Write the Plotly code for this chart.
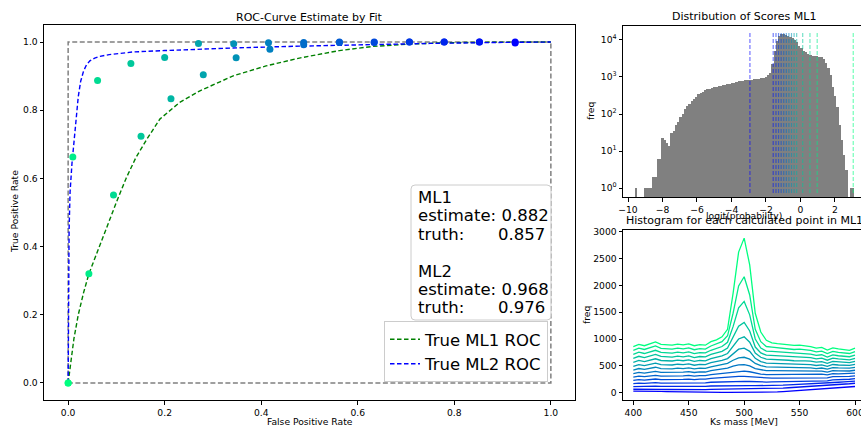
import numpy as np
import plotly.graph_objects as go

W, H = 861, 427
FONT = "DejaVu Sans"

# ---------------- ROC panel data ----------------
box_fpr = [0, 0, 1, 1, 0]
box_tpr = [0, 1, 1, 0, 0]

ml1_true_fpr = [0.0, 0.005, 0.012, 0.021, 0.032, 0.043, 0.055, 0.066, 0.076, 0.087, 0.10, 0.12, 0.14,
                0.163, 0.19, 0.231, 0.273, 0.342, 0.41, 0.479, 0.562, 0.63, 0.707, 0.78, 0.86, 0.93, 1.0]
ml1_true_tpr = [0.0, 0.06, 0.13, 0.20, 0.265, 0.32, 0.365, 0.40, 0.44, 0.48, 0.53, 0.60, 0.66,
                0.715, 0.774, 0.823, 0.857, 0.901, 0.93, 0.953, 0.975, 0.987, 0.994, 0.998, 1.0, 1.0, 1.0]

ml2_true_fpr = [0.0, 0.001, 0.002, 0.004, 0.006, 0.008, 0.011, 0.014, 0.017, 0.021, 0.026, 0.032, 0.038,
                0.045, 0.055, 0.066, 0.085, 0.1, 0.135, 0.2, 0.273, 0.35, 0.479, 0.6, 0.75, 0.9, 1.0]
ml2_true_tpr = [0.0, 0.25, 0.45, 0.56, 0.61, 0.645, 0.69, 0.74, 0.79, 0.84, 0.885, 0.915, 0.933,
                0.945, 0.953, 0.958, 0.963, 0.966, 0.971, 0.975, 0.979, 0.983, 0.988, 0.992, 0.996, 0.999, 1.0]

thr_index = list(range(15))
ml1_est_fpr = [0.0, 0.043, 0.094, 0.151, 0.213, 0.280, 0.348, 0.418, 0.488, 0.562, 0.634, 0.707, 0.779, 0.852, 0.926]
ml1_est_tpr = [0.0, 0.320, 0.551, 0.724, 0.834, 0.904, 0.954, 0.979, 0.992, 0.999, 0.999, 1.0, 1.0, 1.0, 0.997]
ml2_est_fpr = [0.0, 0.0097, 0.061, 0.130, 0.200, 0.270, 0.343, 0.415, 0.488, 0.562, 0.634, 0.707, 0.779, 0.852, 0.926]
ml2_est_tpr = [0.0, 0.663, 0.887, 0.937, 0.955, 0.996, 0.995, 0.998, 0.999, 1.0, 1.0, 1.0, 1.0, 1.0, 1.0]

auc_names = ["ML1", "ML2"]
auc_estimate = ["0.882", "0.968"]
auc_truth = ["0.857", "0.976"]

# ---------------- score distribution data ----------------
score_thresholds = [3.06, 0.97, 0.55, 0.13, -0.22, -0.37, -0.52, -0.67, -0.82, -0.97,
                    -1.12, -1.27, -1.42, -1.58, -2.93]
score_bin_lo = -9.75
score_bin_w = 0.13
score_counts = [0, 1, 0, 0, 0, 1, 1, 1, 1, 2,
                2, 6, 6, 22, 20, 16, 14, 30, 35, 50,
                60, 85, 100, 135, 165, 190, 220, 255, 290, 340,
                370, 400, 440, 460, 480, 510, 530, 550, 560, 575,
                590, 610, 630, 660, 690, 710, 740, 760, 790, 800,
                820, 830, 840, 850, 860, 880, 900, 920, 960, 1000,
                1100, 1300, 2300, 5000, 9500, 13000, 14500, 14500, 14000, 13000,
                12000, 11000, 10000, 8700, 7000, 6200, 5200, 4600, 4100, 3900,
                3800, 3700, 3650, 3550, 3400, 3000, 2400, 1700, 1100, 550,
                300, 150, 50, 20, 8, 3, 0, 1, 1, 0]

# ---------------- mass histograms ----------------
mass_mev = list(range(400, 601, 5))
mass_hist_00 = [860, 900, 875, 910, 945, 900, 895, 885, 905, 890, 910, 875, 895, 885, 950, 985, 1040, 1180, 1850, 2620, 2880,
                2380, 1480, 1130, 975, 930, 915, 905, 895, 880, 885, 870, 860, 830, 845, 795, 835, 815, 805, 790, 830]
mass_hist_01 = [790, 830, 805, 835, 870, 825, 820, 812, 830, 815, 835, 800, 820, 812, 870, 905, 950, 1060, 1480, 1990, 2160,
                1820, 1180, 950, 860, 850, 838, 828, 820, 805, 810, 798, 790, 762, 775, 730, 770, 750, 742, 730, 765]
mass_hist_02 = [715, 755, 730, 760, 790, 750, 745, 738, 755, 742, 760, 728, 748, 740, 790, 822, 860, 940, 1230, 1580, 1700,
                1450, 1000, 830, 775, 770, 762, 752, 745, 732, 738, 726, 720, 695, 707, 665, 705, 688, 680, 670, 700]
mass_hist_03 = [640, 678, 655, 682, 712, 675, 670, 663, 680, 668, 685, 655, 674, 667, 712, 740, 770, 830, 1030, 1240, 1310,
                1150, 850, 740, 700, 695, 688, 680, 673, 662, 668, 657, 652, 630, 642, 605, 642, 628, 622, 613, 640]
mass_hist_04 = [565, 600, 580, 605, 632, 600, 596, 590, 605, 595, 610, 583, 600, 594, 635, 658, 685, 730, 870, 1000, 1040,
                940, 740, 660, 625, 622, 616, 610, 604, 595, 600, 591, 587, 568, 580, 548, 583, 572, 567, 560, 585]
mass_hist_05 = [492, 524, 506, 528, 552, 524, 521, 516, 530, 521, 535, 511, 527, 522, 558, 578, 600, 635, 730, 810, 830,
                770, 640, 580, 552, 550, 545, 540, 536, 528, 534, 526, 523, 507, 518, 492, 525, 516, 512, 507, 528]
mass_hist_06 = [422, 450, 435, 454, 474, 450, 448, 444, 457, 450, 462, 442, 456, 452, 482, 500, 518, 545, 605, 650, 660,
                625, 545, 505, 482, 480, 477, 474, 471, 465, 471, 465, 463, 450, 460, 438, 468, 462, 459, 456, 472]
mass_hist_07 = [355, 378, 366, 382, 398, 380, 378, 376, 387, 382, 392, 376, 388, 385, 410, 424, 438, 458, 495, 518, 522,
                500, 450, 425, 410, 410, 408, 406, 405, 400, 406, 402, 402, 392, 402, 384, 410, 406, 405, 404, 418]
mass_hist_08 = [290, 308, 298, 311, 324, 310, 309, 308, 317, 313, 322, 309, 319, 317, 337, 348, 358, 372, 392, 402, 403,
                390, 362, 347, 338, 339, 339, 339, 339, 337, 343, 341, 342, 335, 345, 330, 354, 352, 353, 353, 366]
mass_hist_09 = [228, 242, 235, 245, 255, 244, 243, 243, 250, 247, 254, 244, 252, 251, 266, 274, 281, 290, 300, 303, 302,
                295, 280, 272, 268, 270, 271, 272, 274, 274, 280, 280, 283, 278, 288, 276, 298, 298, 300, 302, 314]
mass_hist_10 = [168, 178, 173, 180, 187, 179, 178, 178, 183, 181, 186, 179, 185, 184, 194, 199, 203, 208, 212, 212, 211,
                208, 202, 199, 198, 201, 203, 205, 208, 210, 216, 218, 222, 219, 228, 220, 240, 242, 246, 250, 262]
mass_hist_11 = [112, 118, 114, 118, 122, 116, 115, 114, 117, 115, 118, 113, 117, 117, 124, 127, 129, 132, 134, 134, 133,
                132, 130, 130, 131, 135, 138, 141, 146, 150, 157, 161, 167, 167, 177, 172, 190, 194, 200, 206, 216]
mass_hist_12 = [64, 66, 62, 64, 66, 61, 59, 57, 58, 55, 57, 53, 55, 55, 60, 62, 63, 65, 66, 66, 66,
                66, 66, 68, 71, 76, 81, 86, 92, 98, 106, 112, 119, 122, 132, 130, 146, 152, 159, 166, 176]
mass_hist_13 = [30, 31, 28, 28, 28, 24, 21, 18, 16, 12, 9, 5, 4, 3, 4, 4, 4, 4, 4, 4, 4,
                4, 4, 5, 6, 10, 15, 21, 28, 35, 43, 50, 58, 63, 72, 74, 86, 92, 99, 106, 115]
mass_hists = [mass_hist_00, mass_hist_01, mass_hist_02, mass_hist_03, mass_hist_04, mass_hist_05, mass_hist_06,
              mass_hist_07, mass_hist_08, mass_hist_09, mass_hist_10, mass_hist_11, mass_hist_12, mass_hist_13]


# ---------------- helpers ----------------
def fx(px):
    return px / W


def fy(py):
    return 1 - py / H


def winter_r(t, alpha=1.0):
    # t=0 -> spring green, t=1 -> blue
    g = round(255 * (1 - t))
    b = round(128 + 127 * t)
    return f"rgba(0,{g},{b},{alpha})"


WINTER_R = [[0, "rgb(0,255,128)"], [1, "rgb(0,0,255)"]]

fig = go.Figure()

# ---------------- ROC panel ----------------
fig.add_trace(go.Scatter(x=box_fpr, y=box_tpr, mode="lines", showlegend=False, hoverinfo="skip",
                         line=dict(color="#808080", width=1.5, dash="5px,2.5px")))
fig.add_trace(go.Scatter(x=ml1_true_fpr, y=ml1_true_tpr, mode="lines", name="True ML1 ROC",
                         line=dict(color="#008000", width=1.4, dash="4.5px,2.5px")))
fig.add_trace(go.Scatter(x=ml2_true_fpr, y=ml2_true_tpr, mode="lines", name="True ML2 ROC",
                         line=dict(color="#0000ff", width=1.4, dash="4.5px,2.5px")))
for fpr, tpr in ((ml1_est_fpr, ml1_est_tpr), (ml2_est_fpr, ml2_est_tpr)):
    fig.add_trace(go.Scatter(x=fpr, y=tpr, mode="markers", showlegend=False,
                             marker=dict(size=7, color=thr_index, colorscale=WINTER_R,
                                         cmin=0, cmax=len(thr_index) - 1, line=dict(width=0))))

# ---------------- score distribution ----------------
centers = [score_bin_lo + score_bin_w * (k + 0.5) for k in range(len(score_counts))]
fig.add_trace(go.Bar(x=centers, y=[c if c > 0 else None for c in score_counts], width=score_bin_w,
                     marker=dict(color="#808080", line=dict(width=0)), showlegend=False,
                     xaxis="x2", yaxis="y2"))

# ---------------- mass histograms ----------------
n = len(mass_hists)
for i, h in enumerate(mass_hists):
    fig.add_trace(go.Scatter(x=mass_mev, y=h, mode="lines", showlegend=False,
                             line=dict(color=winter_r(i / (n - 1)), width=1.3),
                             xaxis="x3", yaxis="y3"))

shapes = []
# threshold lines
nt = len(score_thresholds)
for i, t in enumerate(score_thresholds):
    shapes.append(dict(type="line", xref="x2", yref="y2 domain", x0=t, x1=t, y0=0.023, y1=0.959,
                       line=dict(color=winter_r(i / (nt - 1), 0.55), width=1.2, dash="4px,2px"),
                       layer="above"))

# rounded text box
x0, x1, yt, yb = fx(411), fx(551), fy(185), fy(320)
rx, ry = 4 / W, 4 / H
path = (f"M {x0+rx},{yt} L {x1-rx},{yt} Q {x1},{yt} {x1},{yt-ry} L {x1},{yb+ry} Q {x1},{yb} {x1-rx},{yb} "
        f"L {x0+rx},{yb} Q {x0},{yb} {x0},{yb+ry} L {x0},{yt-ry} Q {x0},{yt} {x0+rx},{yt} Z")
shapes.append(dict(type="path", xref="paper", yref="paper", path=path,
                   fillcolor="rgba(255,255,255,0.8)", line=dict(color="#cccccc", width=1), layer="above"))

ann = []


def txt(text, px, py, size, xanchor="center", yanchor="middle", angle=0):
    ann.append(dict(text=text, x=fx(px), y=fy(py), xref="paper", yref="paper", showarrow=False,
                    xanchor=xanchor, yanchor=yanchor, textangle=angle,
                    font=dict(family=FONT, size=size, color="black")))


# titles and labels
txt("ROC-Curve Estimate by Fit", 309.5, 17, 11)
txt("False Positive Rate", 309.5, 421, 9.2)
txt("True Positive Rate", 14, 212, 9.2, angle=-90)
txt("Distribution of Scores ML1", 744, 16.5, 11)
txt("logit(probability)", 744, 215, 9.2)
txt("freq", 590, 111, 9.2, angle=-90)
txt("Histogram for each calculated point in ML1", 744, 220.5, 11)
txt("Ks mass [MeV]", 744, 421.5, 9.2)
txt("freq", 586, 315, 9.2, angle=-90)

# text box content
lines_y = [197.5, 215.9, 234.3, 271.1, 289.5, 307.9]
for k in range(2):
    txt(auc_names[k], 416, lines_y[3 * k], 16.5, xanchor="left")
    txt("estimate: " + auc_estimate[k], 416, lines_y[3 * k + 1], 16.5, xanchor="left")
    txt("truth:", 416, lines_y[3 * k + 2], 16.5, xanchor="left")
    txt(auc_truth[k], 546.5, lines_y[3 * k + 2], 16.5, xanchor="right")

axis_common = dict(showgrid=False, zeroline=False, showline=True, linecolor="black", linewidth=1,
                   ticks="outside", ticklen=3.5, tickwidth=1, tickcolor="black", automargin=False,
                   ticklabeloverflow="allow",
                   tickfont=dict(family=FONT, size=9.2, color="black"))

fig.update_layout(
    width=W, height=H,
    margin=dict(l=0, r=0, t=0, b=0, pad=0),
    paper_bgcolor="white", plot_bgcolor="white",
    font=dict(family=FONT, color="black"),
    xaxis=dict(domain=[fx(44), fx(575)], range=[-0.05, 1.05], tickvals=[0, 0.2, 0.4, 0.6, 0.8, 1.0],
               tickformat=".1f", mirror=True, anchor="y", **axis_common),
    yaxis=dict(domain=[fy(400), fy(25)], range=[-0.05, 1.05], tickvals=[0, 0.2, 0.4, 0.6, 0.8, 1.0],
               tickformat=".1f", mirror=True, anchor="x", **axis_common),
    xaxis2=dict(domain=[fx(623), 1.0], range=[-10.29, 3.51], tickvals=[-10, -8, -6, -4, -2, 0, 2],
                mirror=True, anchor="y2", **axis_common),
    yaxis2=dict(domain=[fy(197), fy(26)], type="log", range=[-0.243, 4.378],
                tickvals=[1, 10, 100, 1000, 10000],
                ticktext=["10<sup>0</sup>", "10<sup>1</sup>", "10<sup>2</sup>", "10<sup>3</sup>", "10<sup>4</sup>"],
                anchor="x2", **axis_common),
    xaxis3=dict(domain=[fx(623), 1.0], range=[390.7, 605.4], tickvals=[400, 450, 500, 550, 600],
                mirror=True, anchor="y3", **axis_common),
    yaxis3=dict(domain=[fy(400.4), fy(230.4)], range=[-144, 3024],
                tickvals=[0, 500, 1000, 1500, 2000, 2500, 3000], anchor="x3", **axis_common),
    bargap=0,
    shapes=shapes,
    annotations=ann,
    showlegend=True,
    legend=dict(x=fx(548), y=fy(382), xanchor="right", yanchor="bottom",
                bgcolor="rgba(255,255,255,0.8)", bordercolor="#cccccc", borderwidth=1,
                font=dict(family=FONT, size=16.5, color="black"), tracegroupgap=0),
)

fig.write_html("out.html")
